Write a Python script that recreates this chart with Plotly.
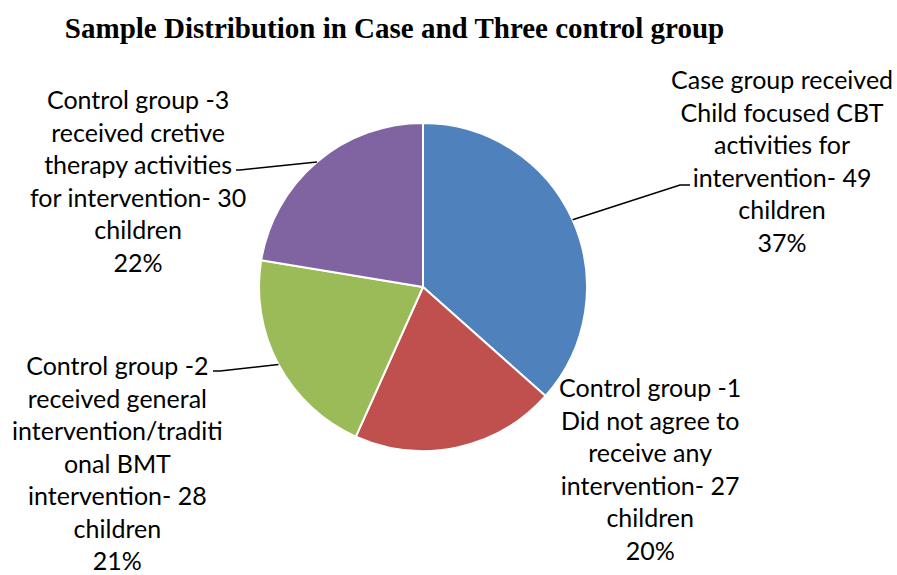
import numpy as np
import plotly.graph_objects as go

# Group sizes (children) and their labels
groups = [
    "Case group received<br>Child focused CBT<br>activities for<br>intervention- 49<br>children",
    "Control group -1<br>Did not agree to<br>receive any<br>intervention- 27<br>children",
    "Control group -2<br>received general<br>intervention/traditi<br>onal BMT<br>intervention- 28<br>children",
    "Control group -3<br>received cretive<br>therapy activities<br>for intervention- 30<br>children",
]
children = [49, 27, 28, 30]
colors = ["#4F81BD", "#C0504D", "#9BBB59", "#8064A2"]

W, H = 897, 575
cx, cy, R = 423, 287, 164  # pie centre and radius in pixels

# label block centre-x and first-line centre-y (px); leader-line elbow (px) per slice
label_pos = [(782, 80), (650, 388), (118, 366), (138, 100)]
elbows = [((680, 185), (690, 185)), None, ((220, 371), (213, 371)), ((240, 170), (236, 170))]

FONT = "Lato"
FS = 25

fig = go.Figure()
fig.add_trace(go.Pie(
    values=children,
    labels=[f"g{i}" for i in range(len(children))],
    sort=False,
    direction="clockwise",
    rotation=0,
    marker=dict(colors=colors, line=dict(color="white", width=2)),
    textinfo="none",
    hoverinfo="skip",
    showlegend=False,
    domain=dict(x=[(cx - R) / W, (cx + R) / W], y=[(H - cy - R) / H, (H - cy + R) / H]),
))

total = sum(children)
pct = [round(100 * v / total) for v in children]
cum = np.cumsum([0] + children)
shapes = []
annotations = []
for i, v in enumerate(children):
    mid = (cum[i] + v / 2) / total * 2 * np.pi
    sx, sy = cx + R * np.sin(mid), cy - R * np.cos(mid)
    if elbows[i] is not None:
        (ex, ey), (tx, ty) = elbows[i]
        path = f"M {sx/W},{1-sy/H} L {ex/W},{1-ey/H} L {tx/W},{1-ty/H}"
        shapes.append(dict(type="path", xref="paper", yref="paper", path=path,
                           line=dict(color="black", width=1.5)))
    lx, ly = label_pos[i]
    annotations.append(dict(
        text=f"{groups[i]}<br>{pct[i]}%", x=lx / W, y=1 - (ly - 18) / H,
        xref="paper", yref="paper", xanchor="center", yanchor="top",
        showarrow=False, align="center",
        font=dict(family=FONT, size=FS, color="black"),
    ))

fig.update_layout(
    width=W, height=H,
    margin=dict(l=0, r=0, t=0, b=0),
    paper_bgcolor="white", plot_bgcolor="white",
    title=dict(text="<b>Sample Distribution in Case and Three control group</b>",
               x=394.5 / W, xanchor="center", y=1 - 28 / H, yanchor="middle",
               font=dict(family="Liberation Serif", size=29, color="black")),
    shapes=shapes,
    annotations=annotations,
)

fig.write_html("out.html")
